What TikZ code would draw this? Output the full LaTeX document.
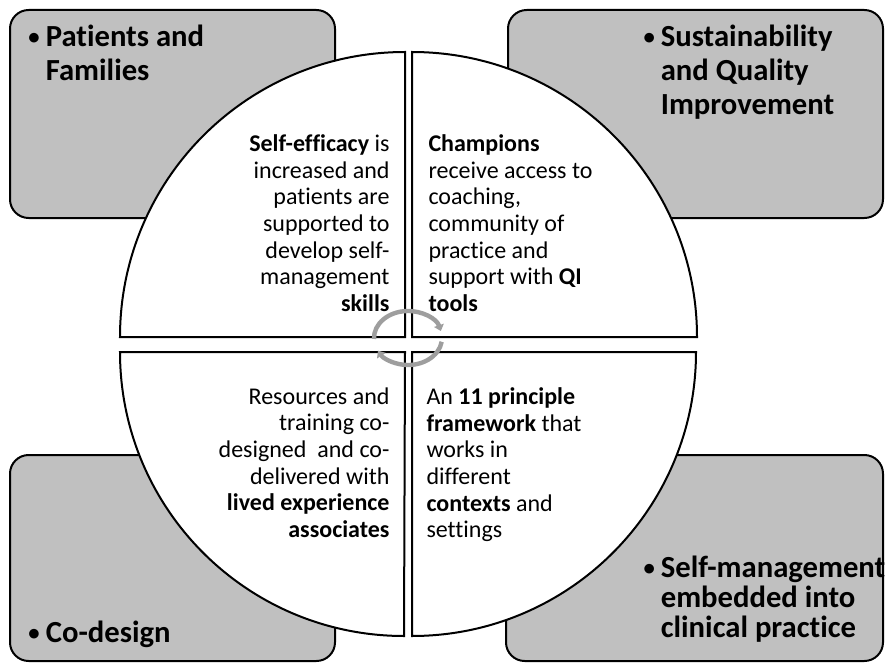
\documentclass[tikz,border=0pt]{standalone}
\usepackage{fontspec}
\setmainfont{Carlito}[Ligatures=NoCommon]
\usetikzlibrary{arrows.meta}

\definecolor{boxgray}{RGB}{192,192,192}
\definecolor{cyclegray}{RGB}{158,158,158}

\newcommand{\hbul}{\makebox[13pt][l]{\raisebox{1.2pt}{\fontsize{17}{17}\selectfont\textbullet}}}
\newcommand{\hind}{\hspace*{13pt}}

\tikzset{every picture/.style={line width=0.75pt}}
\tikzset{
  cornerbox/.style={fill=boxgray, line width=1.5, rounded corners=14pt},
  quarter/.style={fill=white, line width=1.5},
  cyclearrow/.style={draw=cyclegray, line width=3.3, -{Triangle[length=4.5pt,width=7.5pt]}},
  headtext/.style={anchor=north west, inner sep=0pt, align=left, font=\fontsize{23}{25.5}\selectfont\bfseries},
  bodyleft/.style={anchor=north west, inner sep=0pt, align=left, font=\fontsize{18}{20}\selectfont},
  bodyright/.style={anchor=north east, inner sep=0pt, align=right, font=\fontsize{18}{20}\selectfont}
}

\begin{document}
\begin{tikzpicture}[x=0.75pt,y=0.75pt,yscale=-1,xscale=1]
\useasboundingbox (0,0) rectangle (885,663);

%Shape: Rounded Rect [id:patients]
\draw [cornerbox] (10,10) rectangle (335,218) ;
%Shape: Rounded Rect [id:sustain]
\draw [cornerbox] (508,10) rectangle (883,218) ;
%Shape: Rounded Rect [id:codesign]
\draw [cornerbox] (10,455) rectangle (335,661) ;
%Shape: Rounded Rect [id:embedded]
\draw [cornerbox] (506,455) rectangle (883,661) ;

%Shape: Quarter Circle [id:efficacy]
\draw [quarter] (405,337) -- (405,52) arc [start angle=270, end angle=180, radius=285] -- cycle ;
%Shape: Quarter Circle [id:champions]
\draw [quarter] (412,337) -- (697,337) arc [start angle=0, end angle=-90, radius=285] -- cycle ;
%Shape: Quarter Circle [id:resources]
\draw [quarter] (405,352) -- (120,352) arc [start angle=180, end angle=90, radius=284] -- cycle ;
%Shape: Quarter Circle [id:framework]
\draw [quarter] (412,352) -- (412,636) arc [start angle=90, end angle=0, radius=284] -- cycle ;

%Curve Lines [id:cycle]
\coordinate (hub) at (408,338) ;
\draw [cyclearrow] ([shift={(178:34 and 27)}]hub) arc [start angle=178, end angle=345, x radius=34, y radius=27] ;
\draw [cyclearrow] ([shift={(8:34 and 27)}]hub) arc [start angle=8, end angle=152, x radius=34, y radius=27] ;

% Text Node
\node (patientsT) [headtext] at (28,24) {\hbul Patients and\\\hind Families};
% Text Node
\node (sustainT) [headtext] at (643,24) {\hbul Sustainability\\\hind and Quality\\\hind Improvement};
% Text Node
\node (codesignT) [headtext] at (28,620) {\hbul Co-design};
% Text Node
\node (embeddedT) [headtext, font=\fontsize{23}{22.5}\selectfont\bfseries] at (643,555) {\hbul Self-management\\\hind embedded into\\\hind clinical practice};

% Text Node
\node (efficacyT) [bodyright] at (390,134) {\textbf{Self-efficacy} is\\increased and\\patients are\\supported to\\develop self-\\management\\\textbf{skills}};
% Text Node
\node (championsT) [bodyleft] at (428,134) {\textbf{Champions}\\receive access to\\coaching,\\community of\\practice and\\support with \textbf{QI}\\\textbf{tools}};
% Text Node
\node (resourcesT) [bodyright] at (390,387) {Resources and\\training co-\\designed\ \ and co-\\delivered with\\\textbf{lived experience}\\\textbf{associates}};
% Text Node
\node (frameworkT) [bodyleft] at (426,387) {An \textbf{11 principle}\\\textbf{framework} that\\works in\\different\\\textbf{contexts} and\\settings};

\end{tikzpicture}
\end{document}
